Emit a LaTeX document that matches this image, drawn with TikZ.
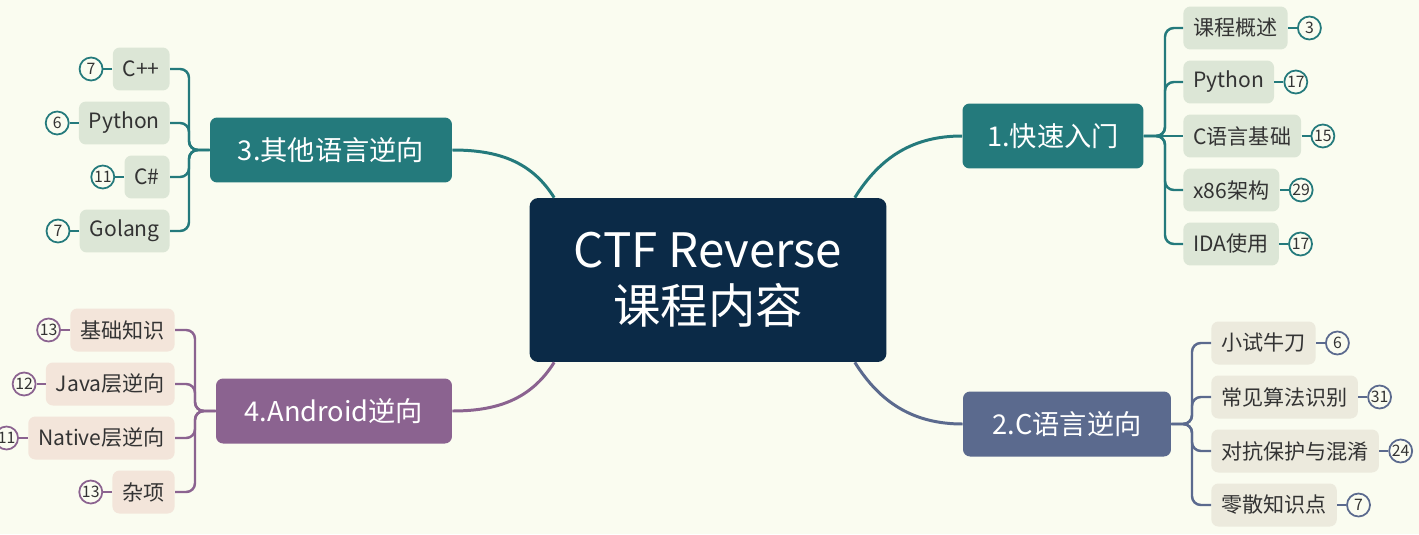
\documentclass[tikz,border=0pt]{standalone}
\usepackage{fontspec}
\setmainfont{Noto Sans CJK SC}
\usetikzlibrary{positioning}

\definecolor{bgcream}{HTML}{FAFCF0}
\definecolor{navy}{HTML}{0B2A47}
\definecolor{tealb}{HTML}{247A7C}
\definecolor{slateb}{HTML}{5B6A8E}
\definecolor{plumb}{HTML}{8B6390}
\definecolor{leafgreen}{HTML}{DCE6D6}
\definecolor{leafsand}{HTML}{ECEADD}
\definecolor{leafrose}{HTML}{F3E5DA}
\definecolor{txtgray}{HTML}{333333}

\begin{document}
\begin{tikzpicture}[x=0.02cm,y=-0.02cm,
    topic/.style={fill=navy,text=white,rounded corners=5pt,align=center,
      font=\fontsize{27}{32}\selectfont,minimum width=7.14cm,minimum height=3.28cm},
    branch/.style={rounded corners=4pt,text=white,font=\fontsize{15.5}{18}\selectfont,
      minimum height=1.3cm},
    leaf/.style={rounded corners=4pt,text=txtgray,font=\fontsize{12}{14}\selectfont,
      minimum height=0.86cm,inner xsep=0.2cm},
    count/.style={circle,line width=1pt,fill=bgcream,minimum size=0.46cm,inner sep=0pt,
      text=txtgray,font=\fontsize{9}{10}\selectfont},
    link/.style={line width=1.7pt},
    twig/.style={line width=1.4pt,rounded corners=5pt}]
    \useasboundingbox (0,0) rectangle (1419,534);
    \fill[bgcream] (0,0) rectangle (1419,534);

    % centre
    \node[topic] (ctf) at (708,280) {CTF Reverse\\课程内容};

    % main branches
    \node[branch,fill=tealb,minimum width=3.62cm] (quick) at (1053,136) {1.快速入门};
    \node[branch,fill=slateb,minimum width=4.16cm] (clang) at (1067,424) {2.C语言逆向};
    \node[branch,fill=tealb,minimum width=4.84cm] (other) at (331,150) {3.其他语言逆向};
    \node[branch,fill=plumb,minimum width=4.72cm] (andr) at (334,411) {4.Android逆向};

    \draw[link,tealb] ([xshift=-0.64cm]ctf.north east) to[out=58,in=180] (quick.west);
    \draw[link,slateb] ([xshift=-0.64cm]ctf.south east) to[out=-58,in=180] (clang.west);
    \draw[link,tealb] ([xshift=0.5cm]ctf.north west) to[out=122,in=0] (other.east);
    \draw[link,plumb] ([xshift=0.5cm]ctf.south west) to[out=238,in=0] (andr.east);

    % 1. quick start
    \coordinate (kq) at (1165,136);
    \node[leaf,fill=leafgreen,anchor=west] (q1) at (1183,28) {课程概述};
    \node[leaf,fill=leafgreen,anchor=west] (q2) at (1183,82) {Python};
    \node[leaf,fill=leafgreen,anchor=west] (q3) at (1183,136) {C语言基础};
    \node[leaf,fill=leafgreen,anchor=west] (q4) at (1183,190) {x86架构};
    \node[leaf,fill=leafgreen,anchor=west] (q5) at (1183,244) {IDA使用};
    \draw[twig,tealb] (quick.east) -- (kq) |- (q1.west);
    \draw[twig,tealb] (quick.east) -- (kq) |- (q2.west);
    \draw[twig,tealb] (quick.east) -- (q3.west);
    \draw[twig,tealb] (quick.east) -- (kq) |- (q4.west);
    \draw[twig,tealb] (quick.east) -- (kq) |- (q5.west);
    \node[count,draw=tealb,right=0.18cm of q1] (nq1) {3};
    \node[count,draw=tealb,right=0.18cm of q2] (nq2) {17};
    \node[count,draw=tealb,right=0.18cm of q3] (nq3) {15};
    \node[count,draw=tealb,right=0.18cm of q4] (nq4) {29};
    \node[count,draw=tealb,right=0.18cm of q5] (nq5) {17};
    \draw[twig,tealb] (q1.east) -- (nq1.west);
    \draw[twig,tealb] (q2.east) -- (nq2.west);
    \draw[twig,tealb] (q3.east) -- (nq3.west);
    \draw[twig,tealb] (q4.east) -- (nq4.west);
    \draw[twig,tealb] (q5.east) -- (nq5.west);

    % 2. C reversing
    \coordinate (kc) at (1192,424);
    \node[leaf,fill=leafsand,anchor=west] (c1) at (1211,343) {小试牛刀};
    \node[leaf,fill=leafsand,anchor=west] (c2) at (1211,397) {常见算法识别};
    \node[leaf,fill=leafsand,anchor=west] (c3) at (1211,451) {对抗保护与混淆};
    \node[leaf,fill=leafsand,anchor=west] (c4) at (1211,505) {零散知识点};
    \draw[twig,slateb] (clang.east) -- (kc) |- (c1.west);
    \draw[twig,slateb] (clang.east) -- (kc) |- (c2.west);
    \draw[twig,slateb] (clang.east) -- (kc) |- (c3.west);
    \draw[twig,slateb] (clang.east) -- (kc) |- (c4.west);
    \node[count,draw=slateb,right=0.18cm of c1] (nc1) {6};
    \node[count,draw=slateb,right=0.18cm of c2] (nc2) {31};
    \node[count,draw=slateb,right=0.18cm of c3] (nc3) {24};
    \node[count,draw=slateb,right=0.18cm of c4] (nc4) {7};
    \draw[twig,slateb] (c1.east) -- (nc1.west);
    \draw[twig,slateb] (c2.east) -- (nc2.west);
    \draw[twig,slateb] (c3.east) -- (nc3.west);
    \draw[twig,slateb] (c4.east) -- (nc4.west);

    % 3. other languages
    \coordinate (ko) at (189,150);
    \node[leaf,fill=leafgreen,anchor=east] (o1) at (170,69) {C++};
    \node[leaf,fill=leafgreen,anchor=east] (o2) at (170,123) {Python};
    \node[leaf,fill=leafgreen,anchor=east] (o3) at (170,177) {C\#};
    \node[leaf,fill=leafgreen,anchor=east] (o4) at (170,231) {Golang};
    \draw[twig,tealb] (other.west) -- (ko) |- (o1.east);
    \draw[twig,tealb] (other.west) -- (ko) |- (o2.east);
    \draw[twig,tealb] (other.west) -- (ko) |- (o3.east);
    \draw[twig,tealb] (other.west) -- (ko) |- (o4.east);
    \node[count,draw=tealb,left=0.18cm of o1] (no1) {7};
    \node[count,draw=tealb,left=0.18cm of o2] (no2) {6};
    \node[count,draw=tealb,left=0.18cm of o3] (no3) {11};
    \node[count,draw=tealb,left=0.18cm of o4] (no4) {7};
    \draw[twig,tealb] (o1.west) -- (no1.east);
    \draw[twig,tealb] (o2.west) -- (no2.east);
    \draw[twig,tealb] (o3.west) -- (no3.east);
    \draw[twig,tealb] (o4.west) -- (no4.east);

    % 4. android
    \coordinate (ka) at (195,411);
    \node[leaf,fill=leafrose,anchor=east] (a1) at (175,330) {基础知识};
    \node[leaf,fill=leafrose,anchor=east] (a2) at (175,384) {Java层逆向};
    \node[leaf,fill=leafrose,anchor=east] (a3) at (175,438) {Native层逆向};
    \node[leaf,fill=leafrose,anchor=east] (a4) at (175,492) {杂项};
    \draw[twig,plumb] (andr.west) -- (ka) |- (a1.east);
    \draw[twig,plumb] (andr.west) -- (ka) |- (a2.east);
    \draw[twig,plumb] (andr.west) -- (ka) |- (a3.east);
    \draw[twig,plumb] (andr.west) -- (ka) |- (a4.east);
    \node[count,draw=plumb,left=0.18cm of a1] (na1) {13};
    \node[count,draw=plumb,left=0.18cm of a2] (na2) {12};
    \node[count,draw=plumb,left=0.18cm of a3] (na3) {11};
    \node[count,draw=plumb,left=0.18cm of a4] (na4) {13};
    \draw[twig,plumb] (a1.west) -- (na1.east);
    \draw[twig,plumb] (a2.west) -- (na2.east);
    \draw[twig,plumb] (a3.west) -- (na3.east);
    \draw[twig,plumb] (a4.west) -- (na4.east);
  \end{tikzpicture}
\end{document}
